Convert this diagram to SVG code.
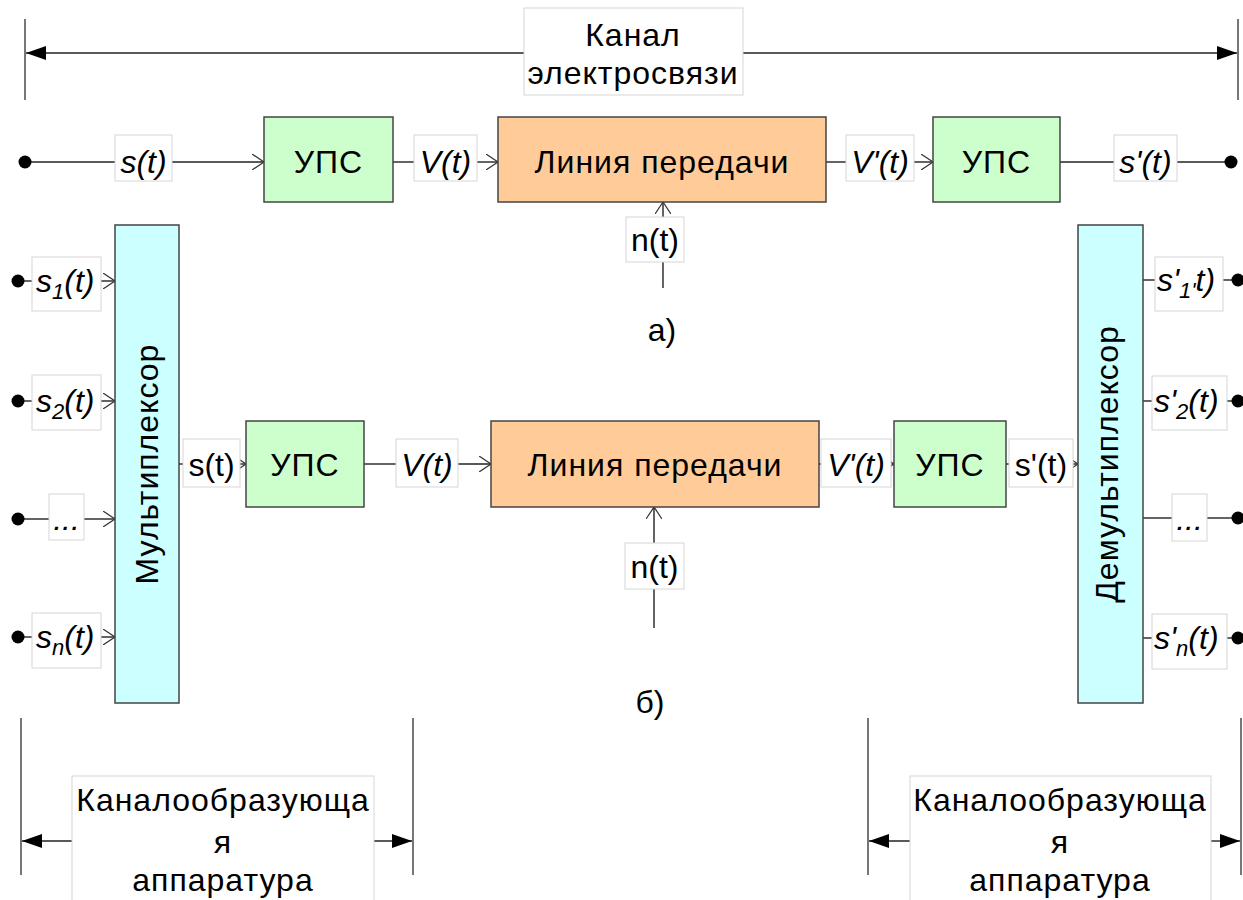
<svg xmlns="http://www.w3.org/2000/svg" width="1243" height="900" viewBox="0 0 1243 900">
<style>
text{font-family:"Liberation Sans",Arial,sans-serif;fill:#000}
.t30{font-size:32px;letter-spacing:1px}
.it{font-size:32px;font-style:italic}
.rg{font-size:32px}
.lbl{fill:#fff;stroke:#d6d6d6;stroke-width:1}
.ups{fill:#ccffcc;stroke:#444;stroke-width:1.5}
.line{fill:#ffcc99;stroke:#444;stroke-width:1.5}
.mux{fill:#ccffff;stroke:#444;stroke-width:1.5}
.c{stroke:#222;stroke-width:1.4;fill:none}
.arr{stroke:#222;stroke-width:1.4;fill:none;marker-end:url(#open)}
.dim{stroke:#222;stroke-width:1.4;fill:none;marker-end:url(#solid)}
.vt{stroke:#555;stroke-width:1.6}
.dot{fill:#000}
</style>
<defs>
<marker id="open" viewBox="0 0 12 16" refX="12" refY="8" markerWidth="12" markerHeight="16" markerUnits="userSpaceOnUse" orient="auto">
<path d="M0,0 L12,8 L0,16" fill="none" stroke="#333" stroke-width="1.2"/>
</marker>
<marker id="solid" viewBox="0 0 20 14" refX="20" refY="7" markerWidth="20" markerHeight="14" markerUnits="userSpaceOnUse" orient="auto">
<path d="M0,0 L20,7 L0,14 z" fill="#000"/>
</marker>
</defs>
<rect width="1243" height="900" fill="#fff"/>

<g id="connectors">
<line class="vt" x1="25" y1="19" x2="25" y2="100"/>
<line class="vt" x1="1238" y1="19" x2="1238" y2="100"/>
<line class="dim" x1="524" y1="53" x2="26" y2="53"/>
<line class="dim" x1="743" y1="53" x2="1237" y2="53"/>
<line class="c" x1="25" y1="162" x2="115" y2="162"/>
<line class="arr" x1="172" y1="162" x2="264" y2="162"/>
<line class="c" x1="393" y1="162" x2="414" y2="162"/>
<line class="arr" x1="477" y1="162" x2="498" y2="162"/>
<line class="c" x1="826" y1="162" x2="846" y2="162"/>
<line class="arr" x1="914" y1="162" x2="933" y2="162"/>
<line class="c" x1="1060" y1="162" x2="1114" y2="162"/>
<line class="c" x1="1177" y1="162" x2="1231" y2="162"/>
<line class="c" x1="663" y1="288" x2="663" y2="262"/>
<line class="arr" x1="663" y1="217" x2="663" y2="202"/>
<line class="c" x1="18" y1="281" x2="32" y2="281"/>
<line class="arr" x1="101" y1="281" x2="115" y2="281"/>
<line class="c" x1="18" y1="401" x2="32" y2="401"/>
<line class="arr" x1="101" y1="401" x2="115" y2="401"/>
<line class="c" x1="18" y1="519" x2="49" y2="519"/>
<line class="arr" x1="84" y1="519" x2="115" y2="519"/>
<line class="c" x1="18" y1="637" x2="32" y2="637"/>
<line class="arr" x1="101" y1="637" x2="115" y2="637"/>
<line class="c" x1="179" y1="464" x2="183" y2="464"/>
<line class="arr" x1="240" y1="464" x2="246" y2="464"/>
<line class="c" x1="364" y1="464" x2="396" y2="464"/>
<line class="arr" x1="458" y1="464" x2="491" y2="464"/>
<line class="c" x1="819" y1="464" x2="821" y2="464"/>
<line class="arr" x1="891" y1="464" x2="894" y2="464"/>
<line class="c" x1="1006" y1="464" x2="1009" y2="464"/>
<line class="arr" x1="1073" y1="464" x2="1078" y2="464"/>
<line class="c" x1="654" y1="628" x2="654" y2="589"/>
<line class="arr" x1="654" y1="543" x2="654" y2="507"/>
<line class="c" x1="1143" y1="280" x2="1155" y2="280"/>
<line class="c" x1="1223" y1="280" x2="1238" y2="280"/>
<line class="c" x1="1143" y1="401" x2="1152" y2="401"/>
<line class="c" x1="1227" y1="401" x2="1238" y2="401"/>
<line class="c" x1="1143" y1="518" x2="1172" y2="518"/>
<line class="c" x1="1207" y1="518" x2="1238" y2="518"/>
<line class="c" x1="1143" y1="638" x2="1152" y2="638"/>
<line class="c" x1="1227" y1="638" x2="1238" y2="638"/>
<line class="vt" x1="21" y1="718" x2="21" y2="875"/>
<line class="vt" x1="413" y1="718" x2="413" y2="875"/>
<line class="dim" x1="72" y1="841" x2="22" y2="841"/>
<line class="dim" x1="374" y1="841" x2="412" y2="841"/>
<line class="vt" x1="868" y1="718" x2="868" y2="875"/>
<line class="vt" x1="1241" y1="718" x2="1241" y2="875"/>
<line class="dim" x1="910" y1="841" x2="869" y2="841"/>
<line class="dim" x1="1211" y1="841" x2="1240" y2="841"/>
</g>

<g id="dots">
<circle class="dot" cx="25" cy="162" r="6.5"/>
<circle class="dot" cx="1231" cy="162" r="6.5"/>
<circle class="dot" cx="18" cy="281" r="6.5"/>
<circle class="dot" cx="18" cy="401" r="6.5"/>
<circle class="dot" cx="18" cy="519" r="6.5"/>
<circle class="dot" cx="18" cy="637" r="6.5"/>
<circle class="dot" cx="1238" cy="280" r="6.5"/>
<circle class="dot" cx="1238" cy="401" r="6.5"/>
<circle class="dot" cx="1238" cy="518" r="6.5"/>
<circle class="dot" cx="1238" cy="638" r="6.5"/>
</g>

<g id="kanal-label">
<rect class="lbl" x="524" y="8" width="219" height="87"/>
<text class="t30" x="633" y="46" text-anchor="middle">Канал</text>
<text class="t30" x="633" y="84" text-anchor="middle">электросвязи</text>
</g>

<g id="top-s"><rect class="lbl" x="115" y="135" width="57" height="46"/><text class="it" x="143.5" y="173" text-anchor="middle">s(t)</text></g>
<g id="top-ups1"><rect class="ups" x="264" y="117" width="129" height="85"/><text class="t30" x="328.5" y="173" text-anchor="middle">УПС</text></g>
<g id="top-v"><rect class="lbl" x="414" y="135" width="63" height="46"/><text class="it" x="445.5" y="173" text-anchor="middle">V(t)</text></g>
<g id="top-line"><rect class="line" x="498" y="117" width="328" height="85"/><text class="t30" x="662" y="173" text-anchor="middle">Линия передачи</text></g>
<g id="top-v2"><rect class="lbl" x="846" y="135" width="68" height="46"/><text class="it" x="880" y="173" text-anchor="middle">V'(t)</text></g>
<g id="top-ups2"><rect class="ups" x="933" y="117" width="127" height="85"/><text class="t30" x="996.5" y="173" text-anchor="middle">УПС</text></g>
<g id="top-s2"><rect class="lbl" x="1114" y="135" width="63" height="46"/><text class="it" x="1145.5" y="173" text-anchor="middle">s'(t)</text></g>
<g id="top-n"><rect class="lbl" x="626" y="217" width="58" height="45"/><text class="rg" x="655" y="251" text-anchor="middle">n(t)</text></g>
<g id="label-a"><text class="rg" x="662" y="341" text-anchor="middle">а)</text></g>

<g id="mux"><rect class="mux" x="115" y="225" width="64" height="478"/><text class="rg" transform="translate(147,464) rotate(-90)" y="11" text-anchor="middle" letter-spacing="1">Мультиплексор</text></g>
<g id="in-s1"><rect class="lbl" x="32" y="257" width="69" height="54"/><text class="it" x="36" y="292">s<tspan dy="7" font-size="22">1</tspan><tspan dy="-7">(t)</tspan></text></g>
<g id="in-s2"><rect class="lbl" x="32" y="375" width="69" height="55"/><text class="it" x="36" y="412">s<tspan dy="7" font-size="22">2</tspan><tspan dy="-7">(t)</tspan></text></g>
<g id="in-dots"><rect class="lbl" x="49" y="494" width="35" height="46"/><text class="it" x="66.5" y="530" text-anchor="middle">...</text></g>
<g id="in-sn"><rect class="lbl" x="32" y="613" width="69" height="55"/><text class="it" x="36" y="648">s<tspan dy="7" font-size="22">n</tspan><tspan dy="-7">(t)</tspan></text></g>

<g id="bot-s"><rect class="lbl" x="183" y="439" width="57" height="48"/><text class="rg" x="211.5" y="476" text-anchor="middle">s(t)</text></g>
<g id="bot-ups1"><rect class="ups" x="246" y="421" width="118" height="86"/><text class="t30" x="305" y="476" text-anchor="middle">УПС</text></g>
<g id="bot-v"><rect class="lbl" x="396" y="439" width="62" height="48"/><text class="it" x="427" y="476" text-anchor="middle">V(t)</text></g>
<g id="bot-line"><rect class="line" x="491" y="421" width="328" height="86"/><text class="t30" x="655" y="476" text-anchor="middle">Линия передачи</text></g>
<g id="bot-v2"><rect class="lbl" x="821" y="439" width="70" height="48"/><text class="it" x="856" y="476" text-anchor="middle">V'(t)</text></g>
<g id="bot-ups2"><rect class="ups" x="894" y="421" width="112" height="86"/><text class="t30" x="950" y="476" text-anchor="middle">УПС</text></g>
<g id="bot-s2"><rect class="lbl" x="1009" y="439" width="64" height="48"/><text class="rg" x="1041" y="476" text-anchor="middle">s'(t)</text></g>
<g id="bot-n"><rect class="lbl" x="625" y="543" width="59" height="46"/><text class="rg" x="654.5" y="578" text-anchor="middle">n(t)</text></g>

<g id="demux"><rect class="mux" x="1078" y="225" width="65" height="478"/><text class="rg" transform="translate(1107,464) rotate(-90)" y="11" text-anchor="middle" letter-spacing="1">Демультиплексор</text></g>
<g id="out-s1"><rect class="lbl" x="1155" y="257" width="68" height="54"/><text class="it" x="1157" y="291">s'<tspan dy="7" font-size="22">1'</tspan><tspan dy="-7">t)</tspan></text></g>
<g id="out-s2"><rect class="lbl" x="1152" y="376" width="75" height="54"/><text class="it" x="1154" y="412">s'<tspan dy="7" font-size="22">2</tspan><tspan dy="-7">(t)</tspan></text></g>
<g id="out-dots"><rect class="lbl" x="1172" y="494" width="35" height="47"/><text class="it" x="1189.5" y="530" text-anchor="middle">...</text></g>
<g id="out-sn"><rect class="lbl" x="1152" y="614" width="75" height="55"/><text class="it" x="1154" y="649">s'<tspan dy="7" font-size="22">n</tspan><tspan dy="-7">(t)</tspan></text></g>

<g id="label-b"><text class="rg" x="650" y="713" text-anchor="middle">б)</text></g>

<g id="kanalobr-left">
<rect class="lbl" x="72" y="776" width="302" height="130"/>
<text class="t30" x="223" y="811" text-anchor="middle">Каналообразующа</text>
<text class="t30" x="223" y="853" text-anchor="middle">я</text>
<text class="t30" x="223" y="891" text-anchor="middle">аппаратура</text>
</g>
<g id="kanalobr-right">
<rect class="lbl" x="910" y="776" width="301" height="130"/>
<text class="t30" x="1060" y="811" text-anchor="middle">Каналообразующа</text>
<text class="t30" x="1060" y="853" text-anchor="middle">я</text>
<text class="t30" x="1060" y="891" text-anchor="middle">аппаратура</text>
</g>
</svg>
